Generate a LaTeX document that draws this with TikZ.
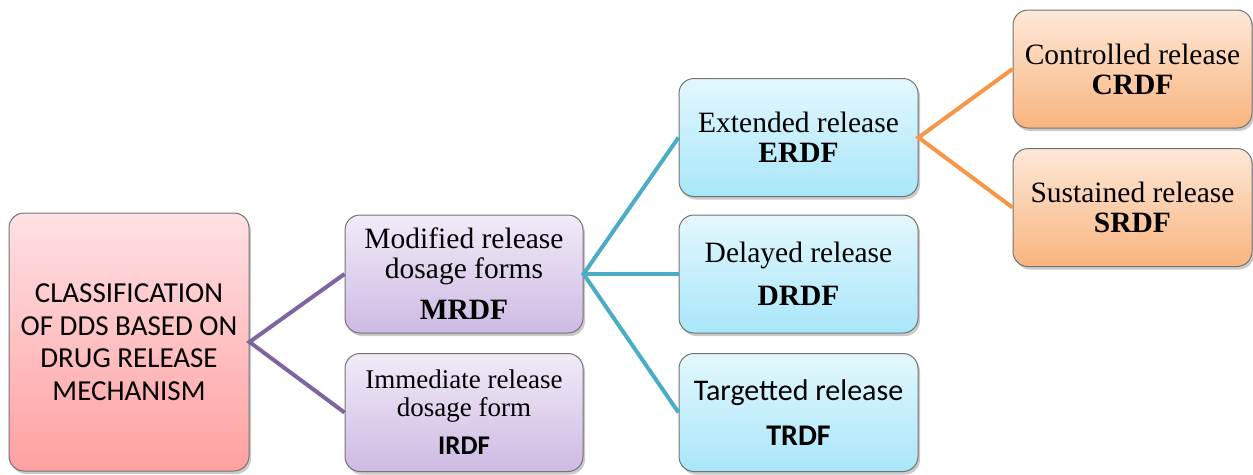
\documentclass[tikz,border=0pt]{standalone}
\usepackage{fontspec}
\setmainfont{Liberation Serif}
\newfontfamily\calibri{Carlito}
\usetikzlibrary{shadows}

\definecolor{rootTop}{HTML}{FFE1E4}
\definecolor{rootBot}{HTML}{FFA0A0}
\definecolor{purpTop}{HTML}{F1EBF8}
\definecolor{purpBot}{HTML}{CDBAE3}
\definecolor{blueTop}{HTML}{E3F8FD}
\definecolor{blueBot}{HTML}{A9E6FA}
\definecolor{orngTop}{HTML}{FDE8D8}
\definecolor{orngBot}{HTML}{F9B47E}
\definecolor{purpLine}{HTML}{8064A2}
\definecolor{blueLine}{HTML}{4BACC6}
\definecolor{orngLine}{HTML}{F79646}

\begin{document}
\begin{tikzpicture}[x=1pt, y=-1pt,
  every node/.style={draw=black!55, line width=1pt, rounded corners=15pt, align=center,
     font=\fontsize{29.5}{30}\selectfont, inner sep=0pt,
     drop shadow={shadow xshift=2pt, shadow yshift=-3pt, opacity=0.35, fill=black!60}},
  rootbox/.style={minimum width=240pt, minimum height=258pt, top color=rootTop, bottom color=rootBot},
  purpbox/.style={minimum width=238pt, minimum height=118pt, top color=purpTop, bottom color=purpBot},
  bluebox/.style={minimum width=239pt, minimum height=118pt, top color=blueTop, bottom color=blueBot},
  orngbox/.style={minimum width=239pt, minimum height=118pt, top color=orngTop, bottom color=orngBot},
  link/.style={line width=4pt}]

\useasboundingbox (0,0) rectangle (1253,474);

\node[rootbox, font=\calibri\fontsize{29}{32.5}\selectfont] (root) at (129,342) {CLASSIFICATION\\ OF DDS BASED ON\\ DRUG RELEASE\\ MECHANISM};

\node[purpbox] (mrdf) at (464,274) {Modified release\\ dosage forms\\[11pt] \textbf{MRDF}};
\node[purpbox, font=\fontsize{27}{28}\selectfont] (irdf) at (464,412.5) {Immediate release\\ dosage form\\[10pt] {\calibri\bfseries IRDF}};

\node[bluebox] (erdf) at (798.5,137.5) {Extended release\\ \textbf{ERDF}};
\node[bluebox] (drdf) at (798.5,274) {Delayed release\\[13pt] \textbf{DRDF}};
\node[bluebox, font=\calibri\fontsize{30}{30}\selectfont] (trdf) at (798.5,412.5) {Targetted release\\[15pt] \bfseries TRDF};

\node[orngbox] (crdf) at (1132.5,69) {Controlled release\\ \textbf{CRDF}};
\node[orngbox] (srdf) at (1132.5,207.5) {Sustained release\\ \textbf{SRDF}};

% connectors
\draw[link, purpLine] (mrdf.west) -- (root.east) -- (irdf.west);
\draw[link, blueLine] (erdf.west) -- (mrdf.east) -- (trdf.west);
\draw[link, blueLine] (mrdf.east) -- (drdf.west);
\draw[link, orngLine] (crdf.west) -- (erdf.east) -- (srdf.west);

\end{tikzpicture}
\end{document}
